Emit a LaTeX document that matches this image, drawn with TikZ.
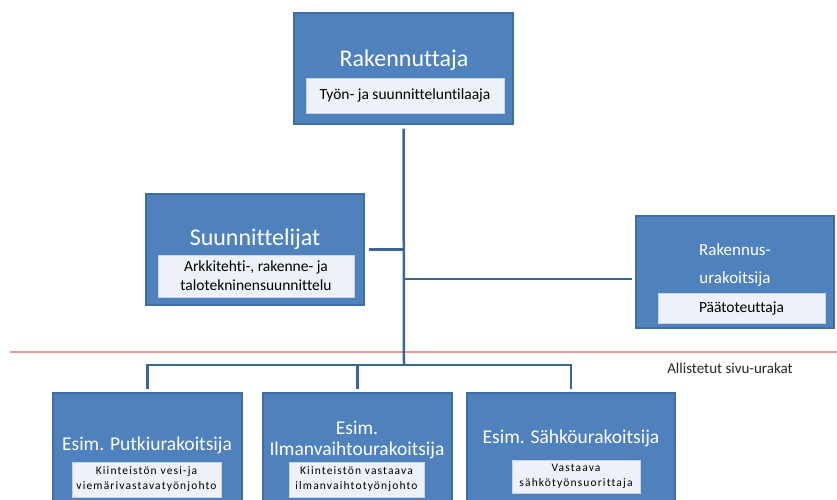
\documentclass[tikz,border=0pt]{standalone}
\usepackage{fontspec}
\setmainfont{Carlito}[Ligatures=NoCommon]
\newfontfamily\smallsp[LetterSpace=10,Ligatures=NoCommon]{Carlito}
\definecolor{boxblue}{HTML}{4F81BD}
\definecolor{boxedge}{HTML}{3F6EA5}
\definecolor{innerfill}{HTML}{EEF1F7}
\definecolor{inneredge}{HTML}{C9D3E6}
\definecolor{linkblue}{HTML}{3A6594}
\definecolor{redline}{HTML}{F29A9A}
\definecolor{notegray}{HTML}{262626}
\begin{document}
\begin{tikzpicture}[x=1pt,y=-1pt,
  bluebox/.style={draw=boxedge, line width=1.2pt, fill=boxblue, inner sep=0pt},
  innerbox/.style={draw=inneredge, line width=0.8pt, fill=innerfill, inner sep=0pt, align=center, text=black},
  bigtitle/.style={text=white, align=center, inner sep=0pt, font=\fontsize{24}{28}\selectfont},
  midtitle/.style={text=white, align=center, inner sep=0pt, font=\fontsize{19.5}{21}\selectfont},
  rktitle/.style={text=white, align=center, inner sep=0pt, font=\fontsize{17}{28}\selectfont},
  toptext/.style={innerbox, font=\fontsize{15.5}{19}\selectfont},
  lowtext/.style={innerbox, font=\smallsp\fontsize{11.5}{15}\selectfont},
  link/.style={draw=linkblue, line width=2.5pt},
]
\useasboundingbox (0,0) rectangle (837,499);
\clip (0,0) rectangle (837,499);
\fill[white] (0,0) rectangle (837,499);

% top box
\node[bluebox, minimum width=219pt, minimum height=111pt] (R) at (403.5,68.5) {};
\node[bigtitle] (Rt) at (404,60) {Rakennuttaja};
\node[toptext, minimum width=198pt, minimum height=35pt] (Ri) at (405,95.5) {Työn- ja suunnitteluntilaaja};

% designers
\node[bluebox, minimum width=218pt, minimum height=111pt] (S) at (255,249.5) {};
\node[bigtitle] (St) at (255,239) {Suunnittelijat};
\node[toptext, minimum width=196pt, minimum height=42pt] (Si) at (256,276) {Arkkitehti-, rakenne- ja\\talotekninensuunnittelu};

% main contractor
\node[bluebox, minimum width=198pt, minimum height=112pt] (K) at (735,272) {};
\node[rktitle] (Kt) at (735,265) {Rakennus-\\urakoitsija};
\node[toptext, minimum width=167pt, minimum height=30pt] (Ki) at (741.5,308) {Päätoteuttaja};

% separator
\coordinate (rl1) at (10,352);
\coordinate (rl2) at (837,352);
\draw[redline, line width=2pt] (rl1) -- (rl2);
\node[text=notegray, inner sep=0pt, font=\fontsize{15}{18}\selectfont] (note) at (730,368) {Allistetut sivu-urakat};

% sub contractors
\node[bluebox, minimum width=189pt, minimum height=112pt] (B1) at (147.5,449) {};
\node[midtitle] (B1t) at (147,445) {Esim. Putkiurakoitsija};
\node[lowtext, minimum width=149pt, minimum height=35pt] (B1i) at (146.5,479.5) {Kiinteistön vesi-ja\\viemärivastavatyönjohto};

\node[bluebox, minimum width=189pt, minimum height=112pt] (B2) at (357.5,449) {};
\node[midtitle] (B2t) at (357,440) {Esim.\\Ilmanvaihtourakoitsija};
\node[lowtext, minimum width=135pt, minimum height=35pt] (B2i) at (356.5,479.5) {Kiinteistön vastaava\\ilmanvaihtotyönjohto};

\node[bluebox, minimum width=208pt, minimum height=112pt] (B3) at (571,449) {};
\node[midtitle] (B3t) at (571,438) {Esim. Sähköurakoitsija};
\node[lowtext, minimum width=128pt, minimum height=33pt] (B3i) at (576,476.5) {Vastaava\\sähkötyönsuorittaja};

% connectors
\coordinate (jb) at (404,365);
\coordinate (jk) at (404,279);
\draw[link, shorten <=4pt] (R.south) -- (jb);
\draw[link, shorten <=4pt] (S.east) -- (S.east -| R.south);
\draw[link, shorten >=3pt] (jk) -- (jk -| K.west);
\draw[link, shorten <=3pt, shorten >=3pt] (B1.north) |- (jb) -| (B3.north);
\draw[link, shorten >=3pt] (B2.north |- jb) -- (B2.north);
\end{tikzpicture}
\end{document}
